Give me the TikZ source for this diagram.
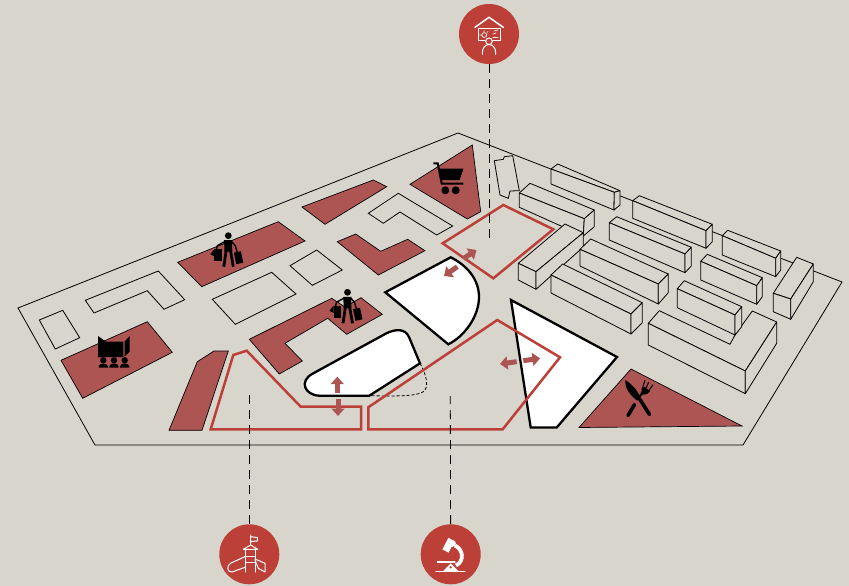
\documentclass[tikz,border=0pt]{standalone}
\usepackage{xcolor}
\usetikzlibrary{arrows.meta}
\definecolor{sitebg}{HTML}{D7D5CC}
\definecolor{plotred}{HTML}{AD5553}
\definecolor{routered}{HTML}{BC4038}
% one long block: top face, front face, end face
\newcommand{\blockbar}[7]{\draw[blockline] #1 -- #2 -- #3 -- #4 -- cycle; \draw[blockline] #1 -- #5 -- #6 -- #4 -- cycle; \draw[blockline] #6 -- #7 -- #3 -- #4 -- cycle;}
\begin{document}
\begin{tikzpicture}[
    x=1pt, y=-1pt,
    thinline/.style={draw=black, line width=0.8pt, line join=miter},
    blockline/.style={draw=black, line width=0.8pt, fill=sitebg, line join=round},
    plot/.style={draw=black, line width=0.7pt, fill=plotred},
    whiteplot/.style={draw=black, line width=2.3pt, fill=white, line join=miter},
    route/.style={draw=routered, line width=2.5pt, line join=miter},
    fatarrow/.style={-{Triangle[length=7.5pt,width=13pt]}, draw=plotred, fill=plotred, line width=5pt},
    leader/.style={draw=black, line width=0.8pt, dash pattern=on 9pt off 6pt},
    iconcircle/.style={circle, fill=routered, minimum size=60pt, inner sep=0pt},
    iconline/.style={draw=white, line width=1pt, line cap=round, line join=round},
    shopper/.pic={
        \fill[black] (0,0) circle[radius=3.4pt];
        \fill[black] (-4.2,4.5) -- (3.8,4.5) -- (4,16) -- (-3.8,16) -- cycle;
        \draw[black, line width=2.8pt] (-2,14) -- (-4.5,31);
        \draw[black, line width=2.8pt] (2,14) -- (5,31);
        \draw[black, line width=1.4pt] (-3,5.5) -- (-11,10) -- (-12,14) (3,5.5) -- (7,10) -- (9,17);
        \fill[black] (-14,13.5) rectangle (-6.5,25.5);
        \fill[black] (-14,13.5) -- (-18,18.5) -- (-14,20.5) -- cycle;
        \fill[black] (5.5,17) -- (12.5,15.5) -- (15,27) -- (8,28.5) -- cycle;
    }
]
\useasboundingbox[fill=sitebg] (0,0) rectangle (849,586);

% site
\draw[thinline] (18,308) -- (458,133) -- (842,282) -- (743,445) -- (95,445) -- cycle;

% empty plots
\draw[thinline] (39.3,320) -- (62.7,310.3) -- (79.7,337.7) -- (55.3,349) -- cycle;
\draw[thinline] (85.3,300.3) -- (158.3,271) -- (184.7,299.7) -- (164,309.3) -- (147.3,290.7) -- (94,313) -- cycle;
\draw[thinline] (212.3,299.3) -- (271.7,272.3) -- (296,294) -- (235.3,324.3) -- cycle;
\draw[thinline] (290,265.7) -- (316.7,250) -- (342.3,270) -- (312.3,285.3) -- cycle;
\draw[thinline] (368.3,213.3) -- (398.3,193.3) -- (452.7,226) -- (436.7,235) -- (400,212) -- (383.3,223.3) -- cycle;
\draw[thinline] (494.3,160.7) -- (503.3,159.3) -- (504.3,156.7) -- (512.7,155.7) -- (519.3,190.7) -- (510,191) -- (508.3,198.3) -- (500,195) -- cycle;

% red plots
\draw[plot] (410,184.3) -- (472.3,145) -- (480.7,211.7) -- (467.3,219) -- cycle;
\draw[plot] (302,207) -- (373.3,180) -- (386.7,186.7) -- (325,224.3) -- cycle;
\draw[plot] (177.7,262.3) -- (278.3,221.7) -- (305,241) -- (201.7,286.7) -- cycle;
\draw[plot] (61,360.3) -- (147.3,321.7) -- (172.3,352.3) -- (82.7,398.3) -- cycle;
\draw[plot] (169,430.3) -- (197.3,361.7) -- (214,351) -- (228.3,351) -- (202,430.3) -- cycle;
\draw[plot] (337.3,241.7) -- (355.7,234) -- (380.7,251.3) -- (407.7,239.3) -- (425,250.7) -- (378.3,275) -- cycle;
\draw[plot] (249.3,339.3) -- (331.7,298.3) -- (345,307) -- (361,297.7) -- (382.3,314.3) -- (346.7,334.3) -- (327.7,318.3) -- (285,343.3) -- (302.3,361) -- (279.3,374) -- cycle;
\draw[plot] (579,427.5) -- (631,369) -- (742,426) -- cycle;

% blocks, back to front
\blockbar{(551,169)}{(557.7,164)}{(620,190.7)}{(614.3,192.3)}{(551,184)}{(614,210)}{(620,205)}
\blockbar{(519.3,193)}{(530,183.3)}{(594.3,210)}{(584.3,218.7)}{(519.3,207.3)}{(583.3,236)}{(594.3,226.7)}
\blockbar{(632.7,200.7)}{(639.3,195.7)}{(712.3,224.3)}{(706,230.7)}{(632.7,218.3)}{(706,248.3)}{(712.3,241.7)}
\blockbar{(722.3,235.7)}{(727.7,230.3)}{(780.7,251)}{(775.7,258.3)}{(722.3,255)}{(775.7,276.7)}{(780.7,270)}
\blockbar{(609.3,222.7)}{(616.7,216.7)}{(691.3,247.3)}{(685,254)}{(609.3,240)}{(685,272.7)}{(691.3,266)}
\blockbar{(518.3,263.3)}{(565,224)}{(583.3,232.7)}{(536,271.7)}{(518.3,280)}{(536,289.3)}{(583.3,247)}
\blockbar{(580,249.3)}{(590.7,239)}{(668.3,274)}{(658.3,284)}{(580,266)}{(658.3,304)}{(668.3,292.7)}
\blockbar{(700.7,261.3)}{(707.3,254.3)}{(762.3,277.7)}{(756.7,285.7)}{(700.7,280)}{(756.7,304.3)}{(762.3,296.7)}
\blockbar{(551,275)}{(562.7,264)}{(642.3,302.7)}{(631,314)}{(551,293)}{(631,334)}{(642.3,322.7)}
\draw[blockline] (648.3,323.3) -- (659.3,310.7) -- (730,344.3) -- (735,335) -- (752.3,311) -- (776.7,322) -- (745.3,371) -- cycle;
\draw[blockline] (648.3,323.3) -- (648.3,345) -- (745.3,393.7) -- (745.3,371) -- cycle;
\draw[blockline] (745.3,393.7) -- (776.7,343.3) -- (776.7,322) -- (745.3,371) -- cycle;
\blockbar{(677.3,288.7)}{(684.3,280.7)}{(741.7,306.7)}{(735,315)}{(677.3,307.7)}{(735,335)}{(741.7,326.7)}
\blockbar{(773.3,293.3)}{(796.7,257.3)}{(813.3,264)}{(790.7,299)}{(773.3,311.7)}{(790.7,319.3)}{(813.3,281.7)}

% white plots
\draw[whiteplot] (385.3,292.3) -- (450.7,257.3) .. controls (468,266) and (479,280) .. (479,297) .. controls (479,316) and (465,336) .. (448.3,344.3) -- cycle;
\draw[whiteplot] (511,300) -- (617,357) -- (556.7,427.5) -- (530.7,427.5) -- cycle;
\draw[whiteplot] (313.3,373.3) -- (386,333.5) .. controls (395,329) and (405,328) .. (409,337) -- (420,363.3) -- (369.3,395.7) -- (320,395.7) .. controls (305,395.7) and (298,381) .. (313.3,373.3) -- cycle;
\draw[black, line width=0.8pt, dash pattern=on 3pt off 2pt] (420,363.3) .. controls (425,372) and (429,384) .. (425,390) .. controls (421,395.7) and (405,396.5) .. (369.3,395.7);

% routes
\draw[route] (442.7,243.3) -- (503.3,205) -- (553.3,229.3) -- (493.3,278.3) -- cycle;
\draw[route] (210.7,429.3) -- (233.3,355) -- (246.7,350.7) -- (300.7,406.7) -- (361,406.7) -- (361,429.3) -- cycle;
\draw[route] (368.3,407.3) -- (497.3,320) -- (560,357.3) -- (502.7,429.3) -- (368.3,429.3) -- cycle;

% arrows
\draw[fatarrow] (457.3,266.7) -- (444,276);
\draw[fatarrow] (463.5,258.5) -- (476.5,250);
\draw[fatarrow] (337.3,393.3) -- (337.3,376.7);
\draw[fatarrow] (338,399.3) -- (338,416);
\draw[fatarrow] (516.7,361.7) -- (500,364);
\draw[fatarrow] (523.3,360.7) -- (540,358.3);

% icons on the plots
\pic at (228.3,235.7) {shopper};
\pic at (347.5,292.3) {shopper};
% cart
\draw[black, line width=2pt] (433.3,163.3) -- (437.7,163.3) -- (441.7,183.5) -- (463.3,183.5);
\fill[black] (438.3,168.5) -- (463.5,168.5) -- (459.5,180) -- (441.7,180) -- cycle;
\fill[black] (445.3,190.3) circle[radius=4pt] (455.7,190.3) circle[radius=4pt];
% cinema
\fill[black] (98,336) -- (106,341.7) -- (123.3,341.7) -- (123.3,357) -- (100,357) -- (98,357.5) -- cycle;
\fill[black] (129.7,336) -- (129.7,351.7) -- (124.5,356.5) -- (124.5,341.7) -- cycle;
\foreach \seat in {103.3,114,124.7}{
    \fill[black] (\seat,360.3) circle[radius=3.2pt];
    \fill[black] (\seat-4.7,367.7) -- (\seat-4.7,366.5) .. controls (\seat-4.2,362.5) and (\seat+4.2,362.5) .. (\seat+4.7,366.5) -- (\seat+4.7,367.7) -- cycle;
}
% knife and fork
\fill[black] (625.5,380) .. controls (632,384) and (637,390) .. (640.5,397.5) -- (637,400.5) .. controls (631,396) and (624,388) .. cycle;
\draw[black, line width=3.6pt, line cap=round] (640,399.5) -- (649.5,414.5);
\draw[black, line width=3.6pt, line cap=round] (628,415.5) -- (634.5,404.5);
\draw[black, line width=2.2pt] (637.5,400) -- (644,390);
\fill[black] (641.5,395) -- (641.5,388) -- (644.5,387) -- (650,391) -- (647,394) -- cycle;
\draw[black, line width=1.1pt] (642.5,388) -- (645,380.3) (645.5,389) -- (648.8,382) (648.5,391) -- (653,384.7);

% icon circles
\node[iconcircle] (labcircle) at (489,34) {};
\node[iconcircle] (playcircle) at (249.3,554.3) {};
\node[iconcircle] (sciencecircle) at (450.7,554.3) {};
\coordinate (labend) at (489,238);
\coordinate (playend) at (249.3,395);
\coordinate (scienceend) at (450.3,396);
\draw[leader] (labcircle) -- (labend);
\draw[leader] (playcircle) -- (playend);
\draw[leader] (sciencecircle) -- (scienceend);

% teaching icon
\draw[iconline, line width=1.5pt] (475,27.3) -- (489,17.3) -- (503.3,27.3);
\draw[iconline] (478.3,28.3) rectangle (500.7,40.7);
\draw[iconline, line width=0.7pt] (484.3,35) circle[radius=2.4pt] (484,30.5) -- (484,31.5) (479.8,35) -- (481,35) (488,31.5) -- (487,32.5) (493,34) -- (496,33) (494,31) -- (498,30) (493,37.5) -- (498,37.5);
\fill[routered] (489,41.3) circle[radius=3.9pt];
\draw[iconline] (489,41.3) circle[radius=3.3pt];
\draw[iconline] (482.3,54.3) .. controls (482,48) and (485,44.5) .. (489,44.5) .. controls (493,44.5) and (496,48) .. (495.7,54.3);

% playground icon
\draw[iconline] (250.7,535) -- (250.7,545) (250.7,536.7) -- (257.3,537.5) -- (257.3,541) -- (250.7,541.5);
\draw[iconline] (243.3,549.3) -- (250.7,545) -- (257.7,549.3) -- cycle;
\draw[iconline] (245.7,549.3) -- (245.7,572) (255,549.3) -- (255,572);
\draw[iconline] (245.7,556.7) -- (255,556.7) (245.7,562.7) -- (255,562.7);
\draw[iconline] (255,559) -- (265,563.3) -- (265,572) -- (258.3,568.3) -- (255,560);
\draw[iconline] (245,556.7) -- (231,563) .. controls (226,565.5) and (227,572.5) .. (232,572) -- (245,567.3);

% microscope icon
\draw[white, line width=7pt] (445.5,551) -- (451.5,539.5);
\fill[white] (452.5,543.5) circle[radius=3.4pt];
\draw[white, line width=3.8pt] (455,545.5) .. controls (463,549) and (465,561) .. (456,565.5);
\draw[iconline, line width=1.1pt] (437.3,562) -- (455,562);
\fill[white] (443.3,571) -- (450.7,563.3) -- (458.3,571) -- cycle;
\draw[iconline, line width=1.1pt] (436,571.5) -- (465,571.5);
\fill[routered] (450.7,567.3) circle[radius=1.3pt];
\end{tikzpicture}
\end{document}
